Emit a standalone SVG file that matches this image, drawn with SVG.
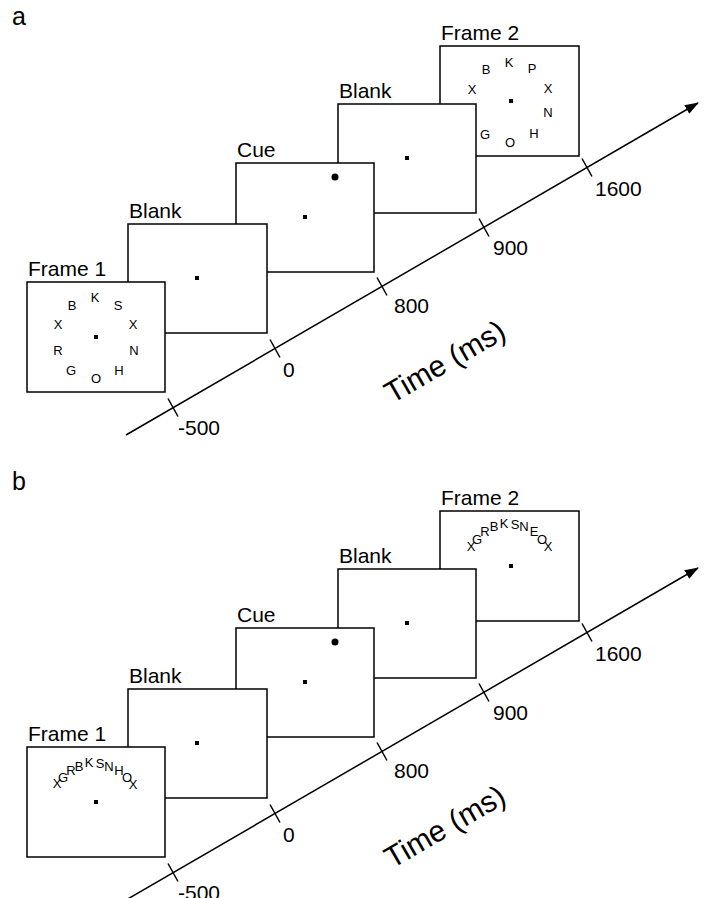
<svg xmlns="http://www.w3.org/2000/svg" width="704" height="898" viewBox="0 0 704 898">
<style>
.box{fill:#fff;stroke:#000;stroke-width:1.5}
.lbl{font-family:"Liberation Sans",Arial,sans-serif;font-size:21px;fill:#000}
.tk{font-family:"Liberation Sans",Arial,sans-serif;font-size:21px;fill:#000}
.pl{font-family:"Liberation Sans",Arial,sans-serif;font-size:25px;fill:#000}
.lt{font-family:"Liberation Sans",Arial,sans-serif;font-size:13px;fill:#000;text-anchor:middle}
.ax{stroke:#000;stroke-width:1.5;fill:none}
.time{font-family:"Liberation Sans",Arial,sans-serif;font-size:30px;fill:#000}
</style>
<defs>
<marker id="arr" viewBox="0 0 14 10" refX="13" refY="5" markerWidth="14" markerHeight="10" markerUnits="userSpaceOnUse" orient="auto">
<path d="M0,0 L14,5 L0,10 Z" fill="#000"/>
</marker>
</defs>
<rect width="704" height="898" fill="#fff"/>

<!-- Panel a -->
<g id="panel-a">
<text class="pl" x="12" y="25">a</text>
<g id="a-frame2">
<rect class="box" x="440" y="46" width="139" height="110"/>
<text class="lbl" x="441" y="40">Frame 2</text>
<rect x="509" y="99" width="4" height="4" fill="#000"/>
<g class="lt">
<text x="509" y="67">K</text><text x="486" y="74">B</text><text x="532" y="73">P</text>
<text x="472" y="94">X</text><text x="548" y="93">X</text><text x="548" y="117">N</text>
<text x="485" y="139">G</text><text x="534" y="138">H</text><text x="510" y="147">O</text>
</g>
</g>
<g id="a-blank2">
<rect class="box" x="338" y="104" width="138" height="109"/>
<text class="lbl" x="339" y="98">Blank</text>
<rect x="405" y="156" width="4" height="4" fill="#000"/>
</g>
<g id="a-cue">
<rect class="box" x="236" y="163" width="138" height="109"/>
<text class="lbl" x="237" y="157">Cue</text>
<circle cx="335" cy="177" r="3.5" fill="#000"/>
<rect x="303" y="215" width="4" height="4" fill="#000"/>
</g>
<g id="a-blank1">
<rect class="box" x="128" y="224" width="139" height="109"/>
<text class="lbl" x="129" y="218">Blank</text>
<rect x="195" y="276" width="4" height="4" fill="#000"/>
</g>
<g id="a-frame1">
<rect class="box" x="27" y="282" width="138" height="110"/>
<text class="lbl" x="28" y="276">Frame 1</text>
<rect x="94" y="335" width="4" height="4" fill="#000"/>
<g class="lt">
<text x="95" y="302">K</text><text x="72" y="310">B</text><text x="118" y="310">S</text>
<text x="58" y="329">X</text><text x="133" y="329">X</text>
<text x="58" y="355">R</text><text x="134" y="355">N</text>
<text x="71" y="375">G</text><text x="119" y="375">H</text><text x="96" y="383">O</text>
</g>
</g>
<g id="a-connectors">
<line class="ax" x1="126" y1="435" x2="698" y2="103" marker-end="url(#arr)"/>
<line class="ax" x1="168" y1="398.5" x2="178" y2="416.5"/>
<line class="ax" x1="270" y1="339.5" x2="280" y2="357.5"/>
<line class="ax" x1="377" y1="277.5" x2="387" y2="295.5"/>
<line class="ax" x1="479" y1="218.5" x2="489" y2="236.5"/>
<line class="ax" x1="582" y1="158.5" x2="592" y2="176.5"/>
</g>
<g id="a-ticks">
<text class="tk" x="178" y="435">-500</text>
<text class="tk" x="283" y="377">0</text>
<text class="tk" x="394" y="313">800</text>
<text class="tk" x="493" y="255">900</text>
<text class="tk" x="595" y="196">1600</text>
<text class="time" transform="translate(392,404) rotate(-30)">Time (ms)</text>
</g>
</g>

<!-- Panel b -->
<g id="panel-b" transform="translate(0,465)">
<text class="pl" x="12" y="25">b</text>
<g id="b-frame2">
<rect class="box" x="440" y="46" width="139" height="110"/>
<text class="lbl" x="441" y="40">Frame 2</text>
<rect x="509" y="99" width="4" height="4" fill="#000"/>
<g class="lt">
<text x="471" y="86">X</text><text x="477" y="79">G</text><text x="485" y="71">R</text>
<text x="494" y="66">B</text><text x="504" y="63">K</text><text x="515" y="64">S</text>
<text x="524" y="66">N</text><text x="534" y="71">E</text><text x="542" y="79">O</text>
<text x="548" y="86">X</text>
</g>
</g>
<g id="b-blank2">
<rect class="box" x="338" y="104" width="138" height="109"/>
<text class="lbl" x="339" y="98">Blank</text>
<rect x="405" y="156" width="4" height="4" fill="#000"/>
</g>
<g id="b-cue">
<rect class="box" x="236" y="163" width="138" height="109"/>
<text class="lbl" x="237" y="157">Cue</text>
<circle cx="335" cy="177" r="3.5" fill="#000"/>
<rect x="303" y="215" width="4" height="4" fill="#000"/>
</g>
<g id="b-blank1">
<rect class="box" x="128" y="224" width="139" height="109"/>
<text class="lbl" x="129" y="218">Blank</text>
<rect x="195" y="276" width="4" height="4" fill="#000"/>
</g>
<g id="b-frame1">
<rect class="box" x="27" y="282" width="138" height="110"/>
<text class="lbl" x="28" y="276">Frame 1</text>
<rect x="94" y="335" width="4" height="4" fill="#000"/>
<g class="lt">
<text x="57" y="323">X</text><text x="63" y="317">G</text><text x="71" y="310">R</text>
<text x="79" y="306">B</text><text x="89" y="302">K</text><text x="100" y="303">S</text>
<text x="109" y="306">N</text><text x="119" y="310">H</text><text x="127" y="317">O</text>
<text x="133" y="324">X</text>
</g>
</g>
<g id="b-connectors">
<line class="ax" x1="126" y1="435" x2="698" y2="103" marker-end="url(#arr)"/>
<line class="ax" x1="168" y1="398.5" x2="178" y2="416.5"/>
<line class="ax" x1="270" y1="339.5" x2="280" y2="357.5"/>
<line class="ax" x1="377" y1="277.5" x2="387" y2="295.5"/>
<line class="ax" x1="479" y1="218.5" x2="489" y2="236.5"/>
<line class="ax" x1="582" y1="158.5" x2="592" y2="176.5"/>
</g>
<g id="b-ticks">
<text class="tk" x="178" y="435">-500</text>
<text class="tk" x="283" y="377">0</text>
<text class="tk" x="394" y="313">800</text>
<text class="tk" x="493" y="255">900</text>
<text class="tk" x="595" y="196">1600</text>
<text class="time" transform="translate(392,404) rotate(-30)">Time (ms)</text>
</g>
</g>
</svg>
